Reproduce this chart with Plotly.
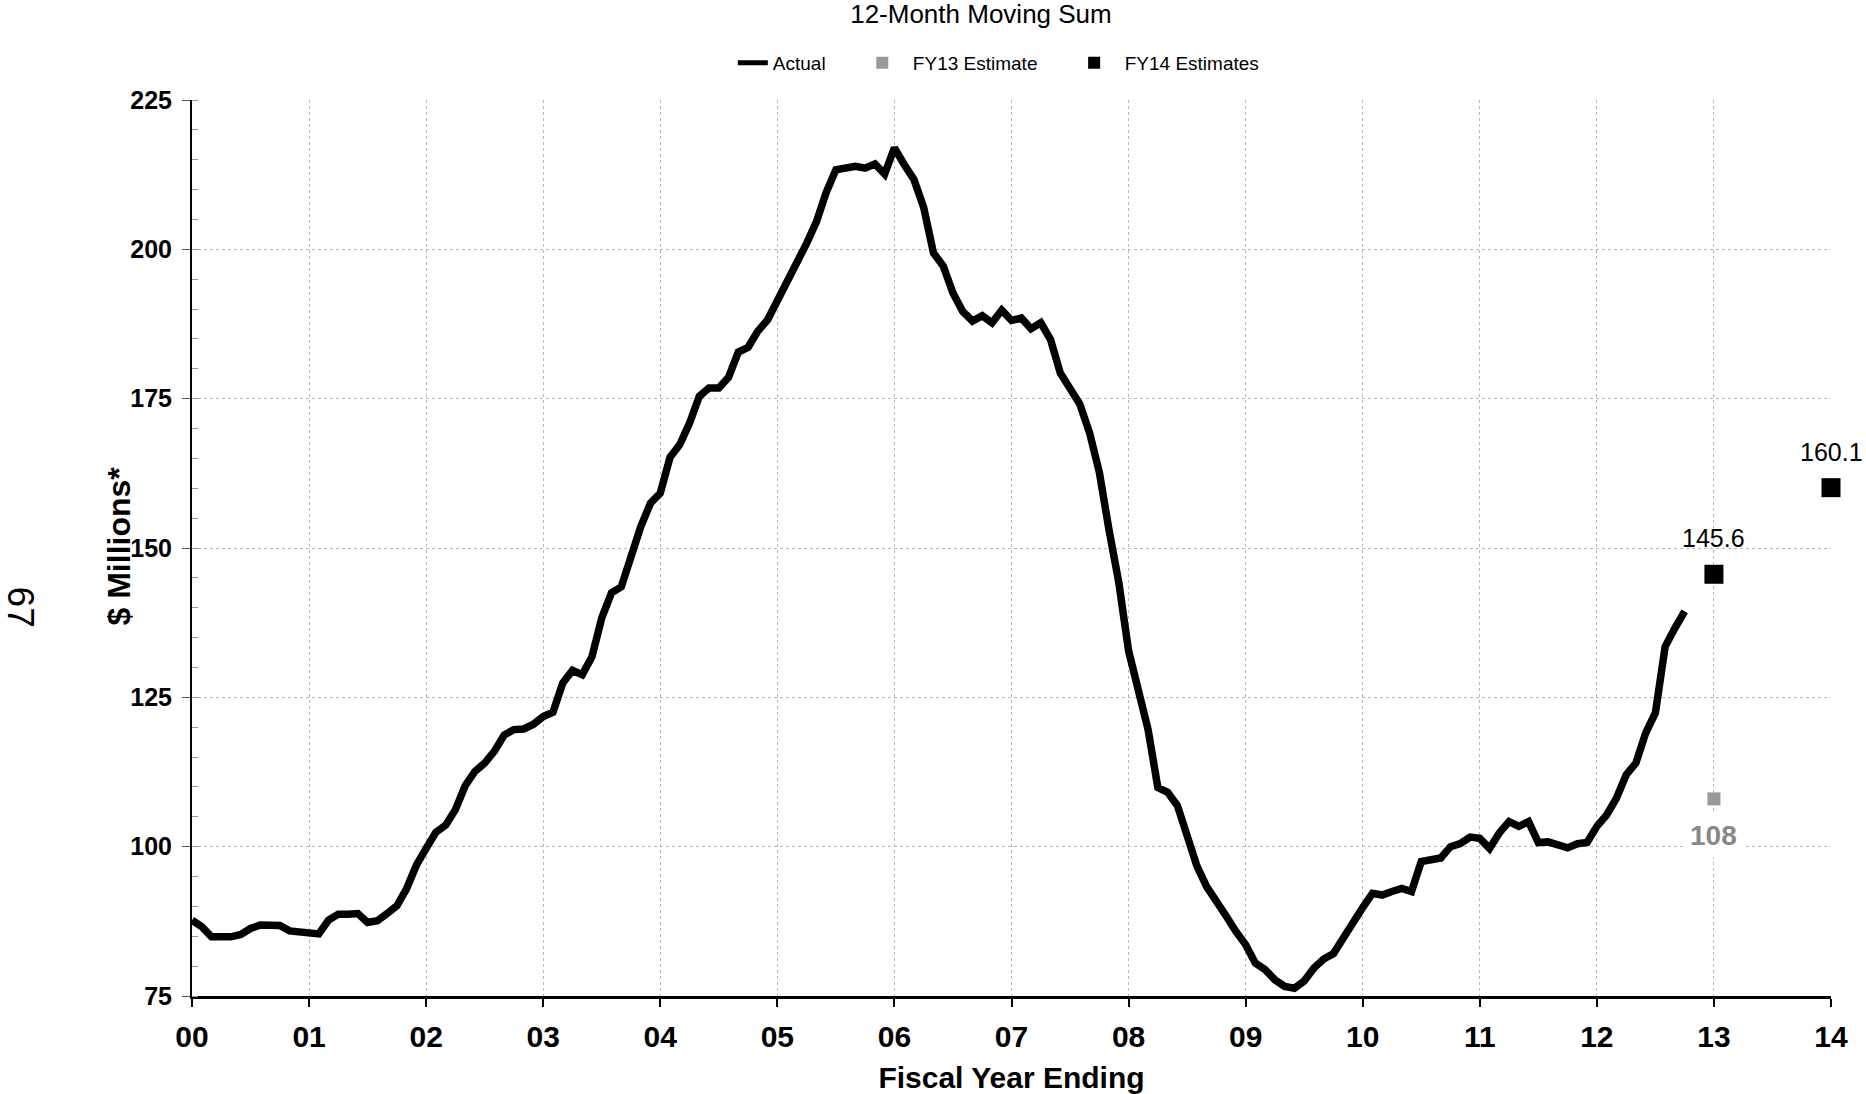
import plotly.graph_objects as go

# Monthly 12-month moving sum, $ millions, starting at fiscal year 2000
actual = [
    87.7, 86.6, 84.9, 84.8, 84.9, 85.3, 86.3, 86.9, 86.9, 86.8, 85.9, 85.7,
    85.6, 85.4, 87.7, 88.7, 88.7, 88.8, 87.3, 87.6, 88.8, 90.1, 93.0, 96.9,
    99.7, 102.4, 103.6, 106.2, 110.2, 112.6, 114.0, 116.0, 118.7, 119.6, 119.7, 120.5,
    121.8, 122.5, 127.4, 129.5, 128.8, 131.8, 138.3, 142.5, 143.5, 148.9, 153.6, 157.5,
    159.2, 165.2, 167.3, 170.9, 175.4, 176.8, 176.8, 178.6, 182.8, 183.6, 186.3, 188.2,
    191.3, 194.2, 197.6, 201.0, 204.6, 209.5, 213.3, 213.6, 213.9, 213.6, 214.3, 212.6,
    217.0, 214.2, 211.7, 207.0, 199.4, 197.2, 192.7, 189.6, 188.0, 188.9, 187.7, 189.8,
    188.1, 188.5, 186.7, 187.7, 184.9, 179.3, 176.5, 174.1, 169.3, 162.7, 153.0, 144.2,
    132.8, 126.6, 119.6, 109.9, 109.1, 106.9, 101.6, 96.8, 93.3, 91.1, 88.4, 85.8,
    83.6, 80.5, 79.4, 77.7, 76.6, 76.3, 77.5, 79.7, 81.2, 82.1, 84.8, 87.3,
    89.8, 92.2, 91.9, 92.5, 93.0, 92.5, 97.5, 97.8, 98.1, 100.0, 100.5, 101.6,
    101.4, 99.7, 102.3, 104.2, 103.4, 104.2, 100.7, 100.8, 100.4, 99.8, 100.5, 100.7,
    103.4, 105.3, 108.1, 112.0, 114.0, 119.0, 122.4, 133.5, 136.6, 139.4,
]
actual_years = [i / 12 for i in range(len(actual))]

fy13_years = [13]
fy13_values = [108]
fy14_years = [13, 14]
fy14_values = [145.6, 160.1]

tick_years = list(range(15))
tick_labels = [f"{y:02d}" for y in tick_years]

FONT = "Liberation Sans, Arial, sans-serif"
NB = "\u00a0"  # non-breaking space used to pad legend entries

fig = go.Figure()
fig.add_trace(go.Scatter(
    x=actual_years, y=actual, mode="lines", name="Actual" + NB * 6,
    line=dict(color="black", width=7.5), cliponaxis=False,
))
fig.add_trace(go.Scatter(
    x=fy13_years, y=fy13_values, mode="markers", name=NB * 2 + "FY13 Estimate" + NB * 6,
    marker=dict(symbol="square", size=13, color="#999999"), cliponaxis=False,
))
fig.add_trace(go.Scatter(
    x=fy14_years, y=fy14_values, mode="markers", name=NB * 2 + "FY14 Estimates",
    marker=dict(symbol="square", size=19, color="black"), cliponaxis=False,
))

annotations = []
for xv, yv in zip(fy14_years, fy14_values):
    annotations.append(dict(
        x=xv, y=yv, text=f"{yv:.1f}", showarrow=False, yshift=36,
        font=dict(family=FONT, size=25, color="black"),
    ))
for xv, yv in zip(fy13_years, fy13_values):
    annotations.append(dict(
        x=xv, y=yv, text=f"{yv:g}", showarrow=False, yshift=-37,
        bgcolor="white", borderpad=6,
        font=dict(family=FONT, size=28, color="#888888", weight="bold"),
    ))
# page number printed sideways in the left margin
annotations.append(dict(
    xref="paper", yref="paper", x=-0.1046, y=0.434, text="67",
    xanchor="center", yanchor="middle",
    showarrow=False, textangle=90,
    font=dict(family=FONT, size=37, color="black"),
))
# y-axis title
annotations.append(dict(
    xref="paper", yref="paper", x=-0.0447, y=0.5025, text="$ Millions*",
    xanchor="center", yanchor="middle",
    showarrow=False, textangle=-90,
    font=dict(family=FONT, size=32, color="black", weight="bold"),
))

fig.update_layout(
    width=1866, height=1094,
    margin=dict(l=192, r=35, t=100, b=98),
    paper_bgcolor="white", plot_bgcolor="white",
    font=dict(family=FONT, color="black"),
    title=dict(
        text="12-Month Moving Sum", x=0.5257, xanchor="center",
        yref="container", y=1 - 14 / 1094, yanchor="middle",
        font=dict(family=FONT, size=26, color="black"),
    ),
    legend=dict(
        orientation="h", xref="container", x=0.535, xanchor="center",
        yref="container", y=1 - 63 / 1094, yanchor="middle",
        font=dict(family=FONT, size=19, color="black"),
        itemsizing="constant", bgcolor="rgba(0,0,0,0)",
    ),
    annotations=annotations,
    showlegend=True,
)

fig.update_xaxes(
    range=[0, 14], tickvals=tick_years, ticktext=tick_labels,
    showgrid=True, gridcolor="#b8b8b8", gridwidth=1, griddash="dot",
    showline=True, linecolor="black", linewidth=3,
    ticks="outside", ticklen=8, tickwidth=2, tickcolor="black",
    ticklabelstandoff=4,
    zeroline=False, automargin=False,
    tickfont=dict(family=FONT, size=30, color="black", weight="bold"),
    title=dict(text="Fiscal Year Ending", standoff=20,
               font=dict(family=FONT, size=30, color="black", weight="bold")),
)
fig.update_yaxes(
    range=[75, 225], dtick=25, tick0=75,
    showgrid=True, gridcolor="#b8b8b8", gridwidth=1, griddash="dot",
    showline=True, linecolor="black", linewidth=2,
    ticks="outside", ticklen=8, tickwidth=1, tickcolor="#555555",
    ticklabelstandoff=5,
    minor=dict(dtick=5, ticks="inside", ticklen=6, tickcolor="#999999", tickwidth=1, showgrid=False),
    zeroline=False, automargin=False,
    tickfont=dict(family=FONT, size=25, color="black", weight="bold"),
)

fig.write_html("out.html")
